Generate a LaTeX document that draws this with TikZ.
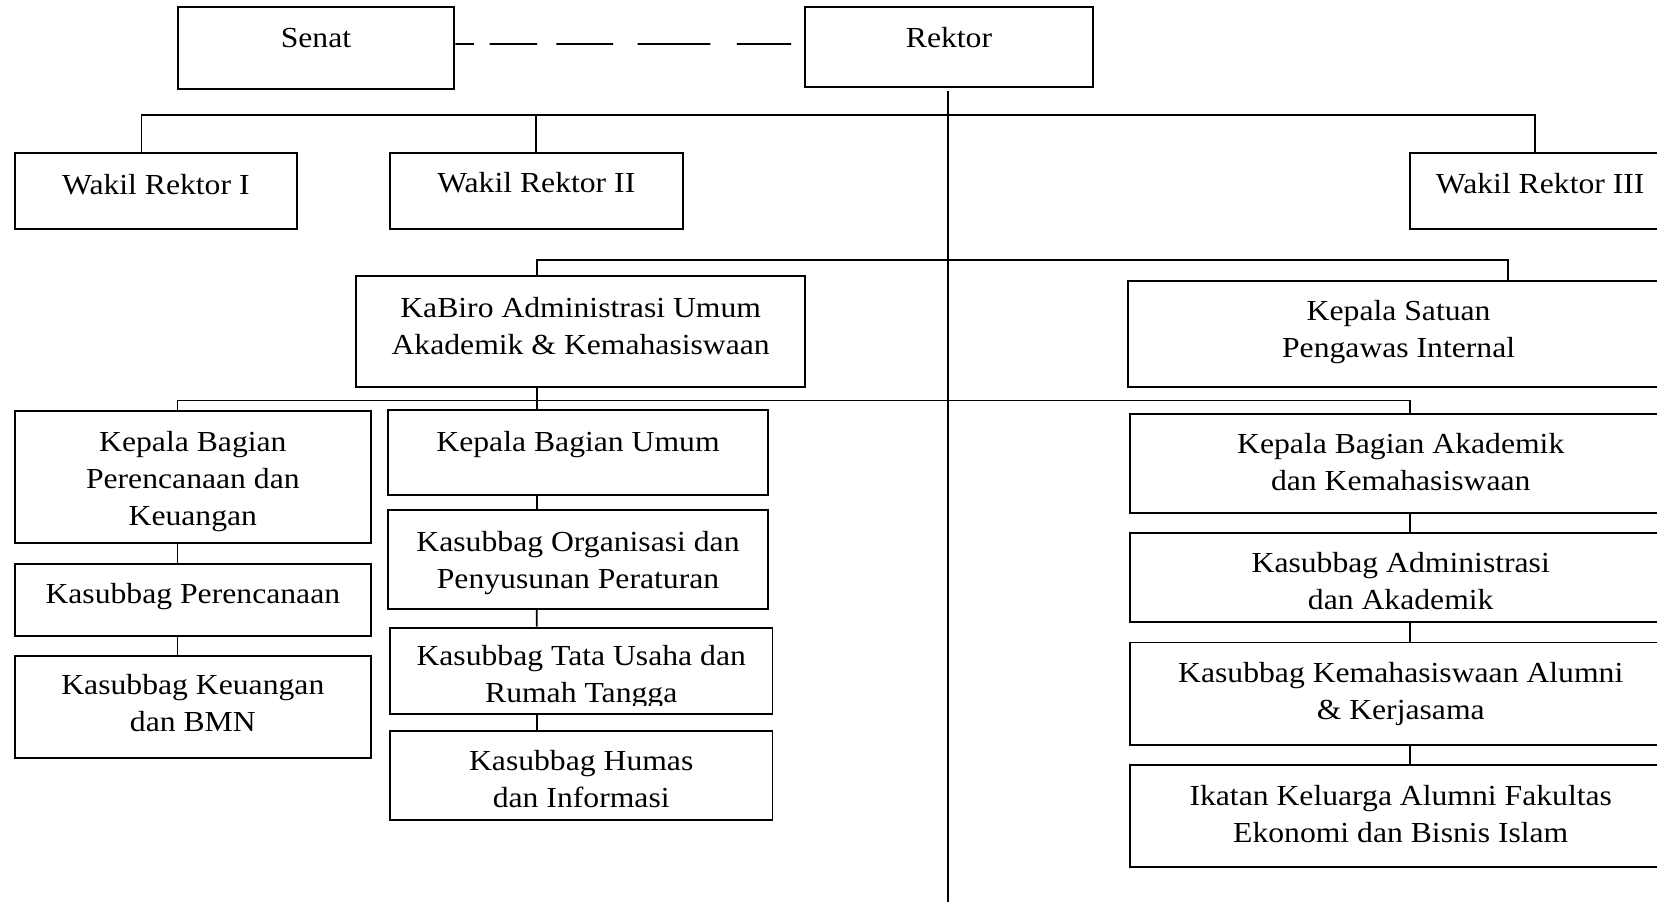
\documentclass[tikz,border=0pt]{standalone}
\usepackage{fontspec}
\setmainfont{Liberation Serif}[FakeStretch=1.09]
\tikzset{
  box/.style={draw, line width=1.05pt, inner sep=0pt},
  txt/.style={font=\fontsize{15.65}{19.92}\selectfont, align=center, inner sep=0pt},
  link/.style={line width=0.95pt},
  senatdash/.style={line width=1pt, dash pattern=on 0.35cm off 0.30cm on 0.896cm off 0.364cm on 1.076cm off 0.464cm on 1.376cm off 0.504cm on 1.024cm off 0.27cm}
}
\newcommand{\bx}[7]{%
  \node[box, minimum width={(#4-#2)*0.02cm}, minimum height={(#5-#3)*0.02cm}] (#1) at ({(#2+#4)/2},{(#3+#5)/2}) {};
  \node[txt] (#1t) at ({(#2+#4)/2},#6) {#7};}
\begin{document}
\begin{tikzpicture}[x=0.02cm,y=-0.02cm]
\fill[white] (0,0) rectangle (1568,854);
\useasboundingbox (0,0) rectangle (1568,854);
% boxes
\bx{senat}{168}{7}{430}{84}{38}{\strut Senat}
\bx{rektor}{762}{7}{1034}{82}{38}{\strut Rektor}
\bx{wra}{14}{145}{281}{217}{177}{\strut Wakil Rektor I}
\bx{wrb}{369}{145}{646}{217}{175.5}{\strut Wakil Rektor II}
\bx{wrc}{1334}{145}{1581}{217}{176}{\strut Wakil Rektor III}
\bx{kabiro}{337}{261}{762}{366}{311}{\strut KaBiro Administrasi Umum\\\strut Akademik \& Kemahasiswaan}
\bx{kspi}{1067}{266}{1580}{366}{314}{\strut Kepala Satuan\\\strut Pengawas Internal}
\bx{kbpk}{14}{389}{351}{514}{455}{\strut Kepala Bagian\\\strut Perencanaan dan\\\strut Keuangan}
\bx{kbu}{367}{388}{727}{468}{420}{\strut Kepala Bagian Umum}
\bx{ko}{367}{483}{727}{576}{532}{\strut Kasubbag Organisasi dan\\\strut Penyusunan Peraturan}
\bx{kp}{14}{534}{351}{602}{564}{\strut Kasubbag Perencanaan}
\bx{kk}{14}{621}{351}{717}{668}{\strut Kasubbag Keuangan\\\strut dan BMN}
\node[box, minimum width={(731-369)*0.02cm}, minimum height={(676-594)*0.02cm}] (ktu) at (550,635) {};
\begin{scope}
  \clip (369,594) rectangle (731,668);
  \node[txt] (ktut) at (550,640) {\strut Kasubbag Tata Usaha dan\\\strut Rumah Tangga};
\end{scope}
\bx{kh}{369}{692}{731}{776}{740}{\strut Kasubbag Humas\\\strut dan Informasi}
\bx{kba}{1069}{392}{1582}{485}{440}{\strut Kepala Bagian Akademik\\\strut dan Kemahasiswaan}
\bx{kaa}{1069}{504}{1582}{589}{552}{\strut Kasubbag Administrasi\\\strut dan Akademik}
\bx{kka}{1069}{608}{1582}{705}{656}{\strut Kasubbag Kemahasiswaan Alumni\\\strut \& Kerjasama}
\bx{ik}{1069}{724}{1582}{820}{773}{\strut Ikatan Keluarga Alumni Fakultas\\\strut Ekonomi dan Bisnis Islam}
% helper coordinates
\coordinate (b1) at (0,109);
\coordinate (b2) at (0,246);
\coordinate (b3) at (0,379);
\coordinate (bot) at (0,854);
% Senat - Rektor
\draw[senatdash] ([yshift=0.078cm]senat.east) -- ([yshift=0.058cm]rektor.west);
% Rektor spine
\coordinate (rv) at ([xshift=-0.02cm,yshift=-0.06cm]rektor.south);
\draw[link] (rv) -- (rv |- bot);
% bus 1
\coordinate (wad) at ([xshift=-0.27cm]wra.north);
\coordinate (wcd) at ([xshift=-0.1cm]wrc.north);
\draw[link] (wad) |- (wcd |- b1) -- (wcd);
\draw[link] (wrb.north) -- (wrb.north |- b1);
% bus 2
\coordinate (kbn) at ([xshift=-0.83cm]kabiro.north);
\coordinate (ksn) at ([xshift=2.07cm]kspi.north);
\draw[link] (kbn) |- (ksn |- b2) -- (ksn);
% bus 3
\coordinate (kbs) at ([xshift=-0.83cm]kabiro.south);
\draw[link] (kbs) -- (kbs |- kbu.north);
\coordinate (kpn) at ([xshift=-0.29cm]kbpk.north);
\coordinate (kan) at ([xshift=0.18cm]kba.north);
\draw[link] (kpn) |- (kan |- b3) -- (kan);
% left column
\draw[link] ([xshift=-0.29cm]kbpk.south) -- ([xshift=-0.29cm]kp.north);
\draw[link] ([xshift=-0.29cm]kp.south) -- ([xshift=-0.29cm]kk.north);
% middle column
\draw[link] ([xshift=-0.78cm]kbu.south) -- ([xshift=-0.78cm]ko.north);
\draw[link] ([xshift=-0.78cm]ko.south) -- ([xshift=-0.84cm]ktu.north);
\draw[link] ([xshift=-0.84cm]ktu.south) -- ([xshift=-0.84cm]kh.north);
% right column
\draw[link] ([xshift=0.18cm]kba.south) -- ([xshift=0.18cm]kaa.north);
\draw[link] ([xshift=0.18cm]kaa.south) -- ([xshift=0.18cm]kka.north);
\draw[link] ([xshift=0.18cm]kka.south) -- ([xshift=0.18cm]ik.north);
\end{tikzpicture}
\end{document}
